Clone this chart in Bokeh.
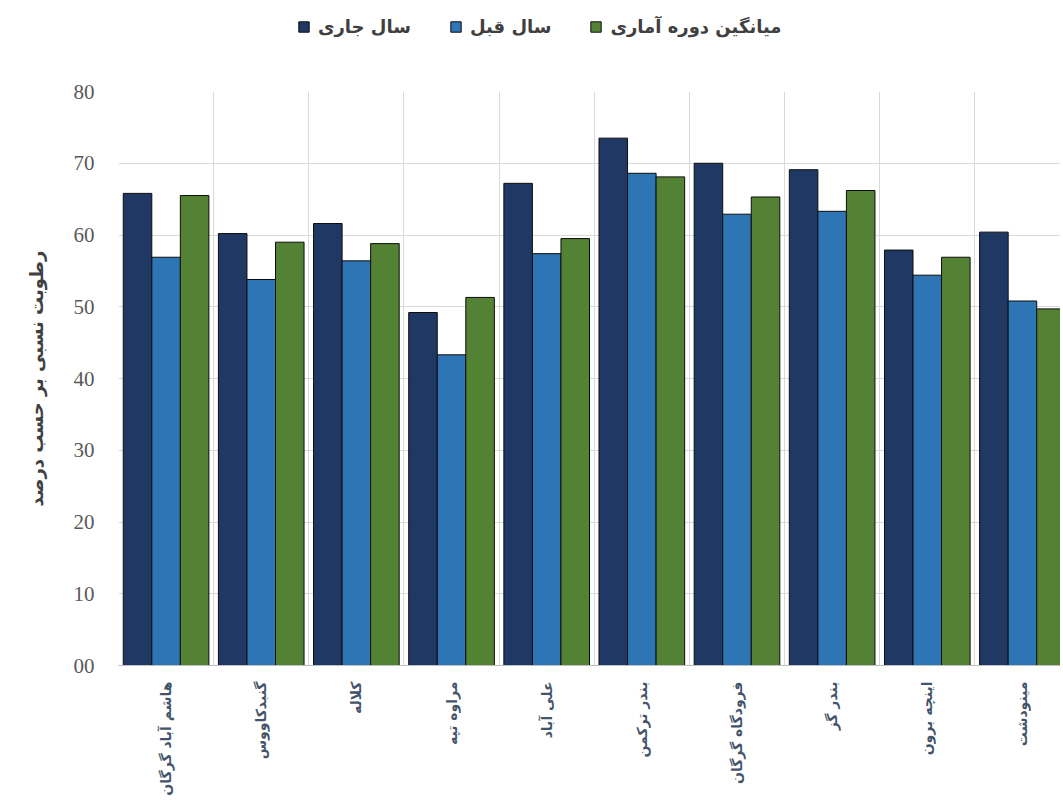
import math
from bokeh.plotting import figure
from bokeh.layouts import column
from bokeh.models import (ColumnDataSource, Range1d, FixedTicker, Legend, LegendItem)
from bokeh.transform import dodge
from bokeh.embed import file_html
from bokeh.resources import INLINE

stations = ["هاشم آباد گرگان", "گنبدکاووس", "کلاله", "مراوه تپه", "علی آباد",
            "بندر ترکمن", "فرودگاه گرگان", "بندر گز", "اینچه برون", "مینودشت"]
current_year = [65.8, 60.2, 61.6, 49.2, 67.2, 73.5, 70.0, 69.1, 57.9, 60.4]
previous_year = [56.9, 53.8, 56.4, 43.3, 57.4, 68.6, 62.9, 63.3, 54.4, 50.8]
long_term_avg = [65.5, 59.0, 58.8, 51.3, 59.5, 68.1, 65.3, 66.2, 56.9, 49.7]
series_names = ["سال جاری", "سال قبل", "میانگین دوره آماری"]
y_ticks = [0, 10, 20, 30, 40, 50, 60, 70, 80]
y_label = "رطوبت نسبی بر حسب درصد"

colors = ["#203864", "#2E75B6", "#548235"]
cols = ["cur", "prev", "avg"]
offsets = [-0.3, 0.0, 0.3]

centers = [i + 0.5 for i in range(len(stations))]
bounds = [float(i) for i in range(len(stations) + 1)]

src = ColumnDataSource(dict(x=centers, cur=current_year, prev=previous_year, avg=long_term_avg))

# ---------- legend strip (separate figure above the chart; its view shows no bars) ----------
lf = figure(width=1060, height=55, x_range=Range1d(0, 9.9), y_range=Range1d(100, 101),
            x_axis_location=None, y_axis_location=None,
            output_backend="svg", toolbar_location=None, min_border=0)
lf.grid.visible = False
lf.outline_line_color = None
leg_renderers = [lf.vbar(x=dodge("x", off), top=col, width=0.3, source=src,
                         fill_color=c, line_color="#0d0d0d", line_width=1)
                 for c, col, off in zip(colors, cols, offsets)]
legend = Legend(items=[LegendItem(label=n, renderers=[r]) for n, r in zip(series_names, leg_renderers)],
                orientation="horizontal", location=(179, 18),
                label_text_font="DejaVu Sans", label_text_font_style="bold",
                label_text_font_size="18px", label_text_color="#404040",
                glyph_width=13, glyph_height=13, label_standoff=8, spacing=38,
                border_line_color=None, background_fill_alpha=0, margin=0, padding=6)
lf.add_layout(legend, "center")

# ---------- main chart ----------
p = figure(frame_width=942, frame_height=574,
           x_range=Range1d(0, 9.9), y_range=Range1d(0, 80),
           output_backend="svg", toolbar_location=None,
           min_border_left=118, min_border_top=36, min_border_right=0, min_border_bottom=135)

for c, col, off in zip(colors, cols, offsets):
    p.vbar(x=dodge("x", off), top=col, width=0.3, source=src,
           fill_color=c, line_color="#0d0d0d", line_width=1)

p.outline_line_color = None
p.background_fill_color = "white"

p.xaxis.ticker = FixedTicker(ticks=centers)
p.xaxis.major_label_overrides = {c: s for c, s in zip(centers, stations)}
p.xaxis.major_label_orientation = math.pi / 2
p.xaxis.major_label_text_font = "DejaVu Sans"
p.xaxis.major_label_text_font_style = "bold"
p.xaxis.major_label_text_font_size = "14px"
p.xaxis.major_label_text_color = "#44546A"
p.xaxis.major_tick_line_color = None
p.xaxis.minor_tick_line_color = None
p.xaxis.axis_line_color = "#BFBFBF"
p.xaxis.major_label_standoff = 10

p.yaxis.ticker = FixedTicker(ticks=y_ticks)
p.yaxis.major_label_overrides = {0: "00"}
p.yaxis.major_label_text_font = "Liberation Serif"
p.yaxis.major_label_text_font_size = "21px"
p.yaxis.major_label_text_color = "#595959"
p.yaxis.major_tick_line_color = None
p.yaxis.minor_tick_line_color = None
p.yaxis.axis_line_color = None
p.yaxis.major_label_standoff = 18
p.yaxis.axis_label = y_label
p.yaxis.axis_label_text_font = "DejaVu Sans"
p.yaxis.axis_label_text_font_style = "bold"
p.yaxis.axis_label_text_font_size = "18px"
p.yaxis.axis_label_text_color = "#404040"
p.yaxis.axis_label_standoff = 24

p.xgrid.ticker = FixedTicker(ticks=bounds)
p.xgrid.grid_line_color = "#D9D9D9"
p.ygrid.grid_line_color = "#D9D9D9"

layout = column(lf, p, spacing=0)
open("out.html", "w").write(file_html(layout, INLINE))
